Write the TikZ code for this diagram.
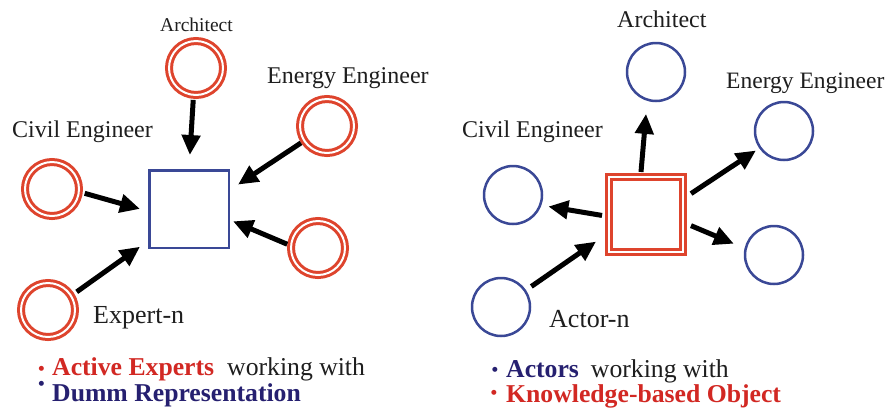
\documentclass[tikz,border=0pt]{standalone}
\usepackage{fontspec}
\setmainfont{Liberation Serif}
\newfontfamily\dotfont{DejaVu Sans}
\usetikzlibrary{arrows.meta}
\definecolor{ringred}{RGB}{222,68,45}
\definecolor{lineblue}{RGB}{58,72,150}
\definecolor{boldred}{RGB}{210,40,35}
\definecolor{boldnavy}{RGB}{38,32,112}
\definecolor{labelgray}{RGB}{30,30,30}
\begin{document}
\begin{tikzpicture}[x=1pt,y=-1pt,
  redring/.style={circle, draw=ringred, line width=3pt, double=white, double distance=2pt, minimum size=54pt, inner sep=0pt, outer sep=4pt},
  bluering/.style={circle, draw=lineblue, line width=2.5pt, minimum size=58pt, inner sep=0pt, outer sep=1.25pt},
  bluesq/.style={rectangle, draw=lineblue, line width=2.5pt, minimum width=79.5pt, minimum height=77.5pt, inner sep=0pt, outer sep=1.25pt},
  redsq/.style={rectangle, draw=ringred, line width=3pt, double=white, double distance=2pt, minimum width=74pt, minimum height=75pt, inner sep=0pt, outer sep=4pt},
  flow/.style={draw=black, line width=5pt, -{Triangle[length=20pt,width=18pt]}},
  lbl/.style={anchor=base west, inner sep=0pt, text=labelgray, font=\fontsize{24}{24}\selectfont},
  bigl/.style={anchor=base west, inner sep=0pt, text=labelgray, font=\fontsize{26}{26}\selectfont},
  bline/.style={anchor=base west, inner sep=0pt, text=labelgray, font=\fontsize{25.7}{26}\selectfont},
  bul/.style={anchor=center, inner sep=0pt, font=\dotfont\fontsize{6.5}{7}\selectfont}
]
\useasboundingbox[fill=white] (0,0) rectangle (888,408);

% ---------- left panel ----------
\node[redring] (archL) at (196,68) {};
\node[redring] (enL) at (327,126) {};
\node[redring] (civL) at (52,189) {};
\node[redring] (en2L) at (318,248) {};
\node[redring] (expL) at (48,310) {};
\node[bluesq] (sqL) at (189,209) {};

\draw[flow, shorten <=1pt, shorten >=14pt] (archL.-95) -- (sqL.north);
\draw[flow, shorten >=9.6pt] (enL.-147) -- (sqL.25);
\draw[flow, shorten <=2pt, shorten >=8.3pt] (civL.-7) -- (sqL.183);
\draw[flow, shorten >=3.3pt] (en2L.173) -- (sqL.-15);
\draw[flow, shorten <=3pt, shorten >=9.8pt] (expL.32) -- (sqL.218);

\node[lbl, font=\fontsize{19.5}{20}\selectfont] (tArchL) at (160,31) {Architect};
\node[lbl] (tEnL) at (267,83) {Energy Engineer};
\node[lbl] (tCivL) at (12,137) {Civil Engineer};
\node[bigl] (tExp) at (93,323) {Expert-n};

\node[bul, text=boldred] (d1) at (41.5,369) {●};
\node[bline] (l1) at (52,375) {\textcolor{boldred}{\bfseries Active Experts}\hspace{13pt}working with};
\node[bul, text=boldnavy] (d2) at (41.5,384) {●};
\node[bline] (l2) at (52,401) {\textcolor{boldnavy}{\bfseries Dumm Representation}};

% ---------- right panel ----------
\node[bluering] (archR) at (656,72) {};
\node[bluering] (enR) at (784,131) {};
\node[bluering] (civR) at (513,195) {};
\node[bluering] (en2R) at (774,255) {};
\node[bluering] (actR) at (501,307) {};
\node[redsq] (sqR) at (646,214.5) {};

\draw[flow, shorten <=1pt, shorten >=13pt] (sqR.97) -- (archR.-107);
\draw[flow, shorten <=4.8pt, shorten >=3.9pt] (sqR.24.7) -- (enR.-145.7);
\draw[flow, shorten <=3pt, shorten >=7pt] (sqR.182.8) -- (civR.-20.4);
\draw[flow, shorten <=4.3pt, shorten >=11.6pt] (sqR.-13.4) -- (en2R.167.5);
\draw[flow, shorten <=6.4pt, shorten >=10.9pt] (actR.34) -- (sqR.207.5);

\node[lbl] (tArchR) at (617,27) {Architect};
\node[lbl, font=\fontsize{23.5}{24}\selectfont] (tEnR) at (726,88) {Energy Engineer};
\node[lbl] (tCivR) at (462,137) {Civil Engineer};
\node[bigl] (tAct) at (549,327) {Actor-n};

\node[bul, text=boldnavy] (d3) at (495,370) {●};
\node[bline] (l3) at (506,377) {\textcolor{boldnavy}{\bfseries Actors}\hspace{12pt}working with};
\node[bul, text=boldred] (d4) at (494,393) {●};
\node[bline] (l4) at (506,402) {\textcolor{boldred}{\bfseries Knowledge-based Object}};
\end{tikzpicture}
\end{document}
